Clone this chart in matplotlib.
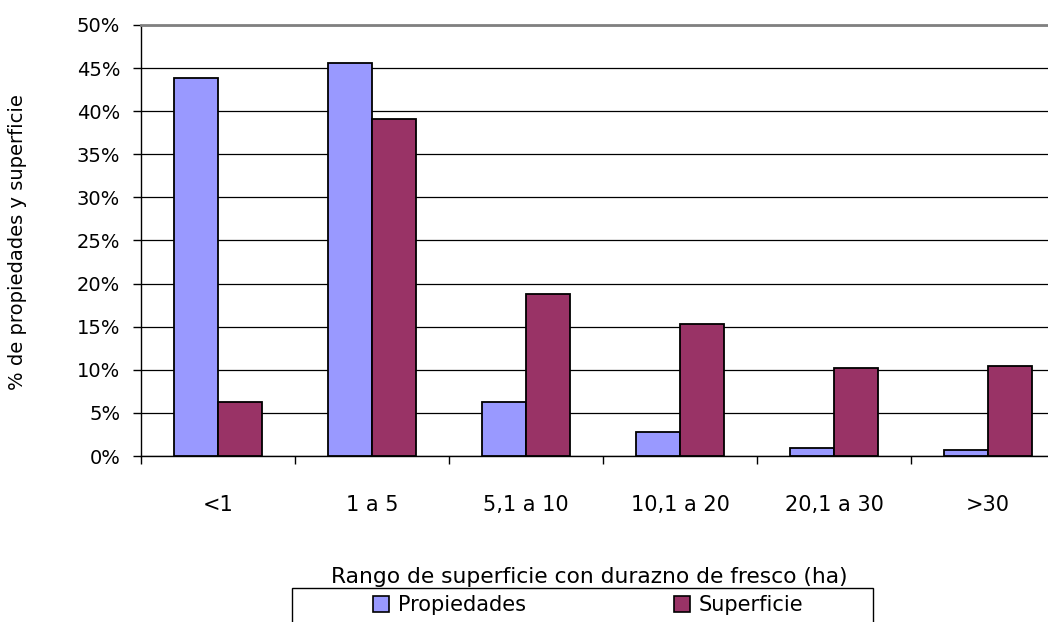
import numpy as np
import matplotlib
matplotlib.use("Agg")
import matplotlib.pyplot as plt
from matplotlib.patches import Rectangle, Patch
from matplotlib.ticker import PercentFormatter

plt.rcParams['font.family'] = ['DejaVu Sans']

# ---- data ----
categories = ['<1', '1 a 5', '5,1 a 10', '10,1 a 20', '20,1 a 30', '>30']
propiedades = [43.8, 45.6, 6.3, 2.8, 0.9, 0.7]
superficie = [6.3, 39.1, 18.8, 15.3, 10.2, 10.4]
series_names = ['Propiedades', 'Superficie']
y_ticks = np.arange(0, 55, 5)

col_prop = '#9999FF'
col_sup = '#993366'

W, H = 1048, 622
fig = plt.figure(figsize=(W / 100, H / 100), dpi=100)

# plot area runs past the right edge, as in the reference (cropped)
left, right, top, bottom = 141, 1065, 25, 456
ax = fig.add_axes([left / W, 1 - bottom / H, (right - left) / W, (bottom - top) / H])

x = np.arange(len(categories))
bw = 0.286
ax.bar(x - bw / 2, propiedades, bw, color=col_prop, edgecolor='black', linewidth=1.3, zorder=3)
ax.bar(x + bw / 2, superficie, bw, color=col_sup, edgecolor='black', linewidth=1.3, zorder=3)

ax.set_xlim(-0.5, len(categories) - 0.5)
ax.set_ylim(0, 50)
ax.set_yticks(y_ticks)
ax.yaxis.set_major_formatter(PercentFormatter(decimals=0))
ax.yaxis.grid(True, color='black', linewidth=0.9)
ax.set_axisbelow(True)

ax.set_xticks(x)
ax.set_xticklabels(categories)
ax.set_xticks(np.arange(len(categories) + 1) - 0.5, minor=True)
ax.tick_params(axis='x', which='major', length=0, pad=28, labelsize=15)
ax.tick_params(axis='x', which='minor', length=6, width=1, color='black', direction='out')
ax.tick_params(axis='y', length=6, width=1, pad=9, labelsize=14)

for s in ['left', 'bottom']:
    ax.spines[s].set_color('black')
    ax.spines[s].set_linewidth(1)
ax.spines['right'].set_visible(False)
ax.spines['top'].set_color('#808080')
ax.spines['top'].set_linewidth(2)

fig.text(18 / W, 1 - 242 / H, '% de propiedades y superficie', rotation=90,
         ha='center', va='center', fontsize=14)
fig.text(589 / W, 1 - 577 / H, 'Rango de superficie con durazno de fresco (ha)',
         ha='center', va='center', fontsize=15.7)

# legend frame, cut by the bottom edge like the reference
fig.patches.append(Rectangle((292 / W, -0.1), (873 - 292) / W, 0.1 + 1 - 588 / H,
                             transform=fig.transFigure, facecolor='white',
                             edgecolor='black', linewidth=1))
handles = [Patch(facecolor=col_prop, edgecolor='black', linewidth=1.2),
           Patch(facecolor=col_sup, edgecolor='black', linewidth=1.2)]
fig.legend(handles, series_names, loc='center', bbox_to_anchor=(588 / W, 1 - 605 / H),
           ncol=2, frameon=False, fontsize=15, handlelength=0.8, handleheight=0.8,
           handletextpad=0.4, columnspacing=7.1, borderpad=0)

fig.savefig('out.png', dpi=100)
